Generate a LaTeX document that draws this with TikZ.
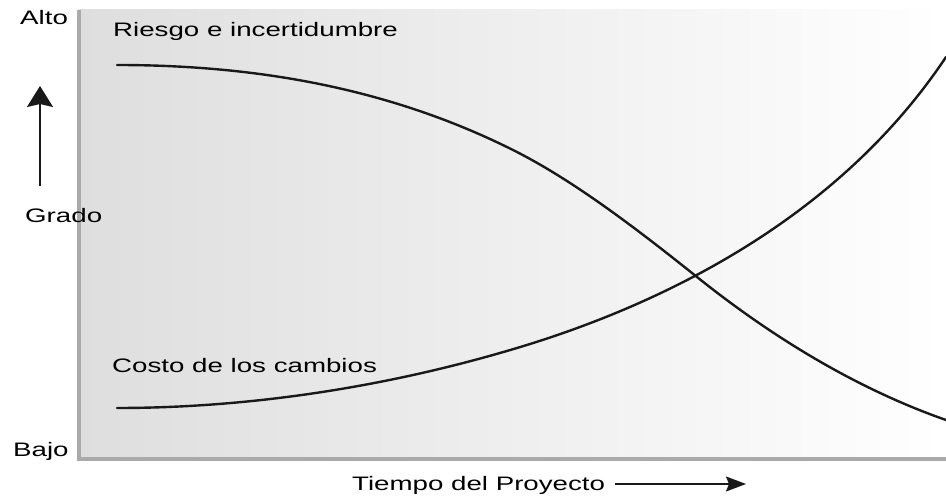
\documentclass[tikz,border=0pt]{standalone}
\usepackage{fontspec}
\setmainfont{Liberation Sans}
\newfontfamily\labfont[FakeStretch=1.42]{Liberation Sans}
\usetikzlibrary{arrows.meta}
\definecolor{framegray}{RGB}{170,170,170}
\definecolor{shadeleft}{RGB}{222,222,222}
\tikzset{
  lab/.style={inner sep=0pt, anchor=base west, font=\labfont\fontsize{19.5}{22}\selectfont, text=black},
  curve/.style={line width=2.4pt, black!90, line cap=round},
  frameline/.style={line width=4pt, framegray},
}
\begin{document}
\begin{tikzpicture}[x=1pt,y=-1pt]
\useasboundingbox (0,0) rectangle (946,497);
\shade[left color=shadeleft, right color=white] (79,10) rectangle (946,459);
\draw[frameline] (79,10) -- (79,459) -- (946,459);
% labels
\node[lab] (alto) at (20,25) {Alto};
\node[lab] (grado) at (25,223) {Grado};
\node[lab] (bajo) at (13,456) {Bajo};
\node[lab] (riesgo) at (113,37) {Riesgo e incertidumbre};
\node[lab] (costo) at (112,372) {Costo de los cambios};
\node[lab] (tiempo) at (352,490) {Tiempo del Proyecto};
% vertical arrow
\coordinate (ya) at (40,186);
\coordinate (yb) at (40,86);
\draw[line width=2pt, black!90, -{Stealth[width=26pt,length=21pt,inset=3pt]}] (ya) -- (yb);
% horizontal arrow
\coordinate (xa) at (615,484);
\coordinate (xb) at (746,484);
\draw[line width=1.6pt, black!90, -{Stealth[width=15pt,length=20pt,inset=3pt]}] (xa) -- (xb);
% curves
\coordinate (r0) at (117,65);
\coordinate (r1) at (513,150);
\coordinate (rx) at (697,277);
\coordinate (r3) at (946,420);
\draw[curve] (r0) .. controls (247,65) and (383,85) .. (r1)
  .. controls (573,180) and (637,229) .. (rx)
  .. controls (782,345) and (866,392) .. (r3);
\coordinate (c0) at (117,408);
\coordinate (c1) at (517,348);
\coordinate (c3) at (946,57);
\draw[curve] (c0) .. controls (250,408) and (387,387) .. (c1)
  .. controls (657,306) and (836,222) .. (c3);
\end{tikzpicture}
\end{document}
